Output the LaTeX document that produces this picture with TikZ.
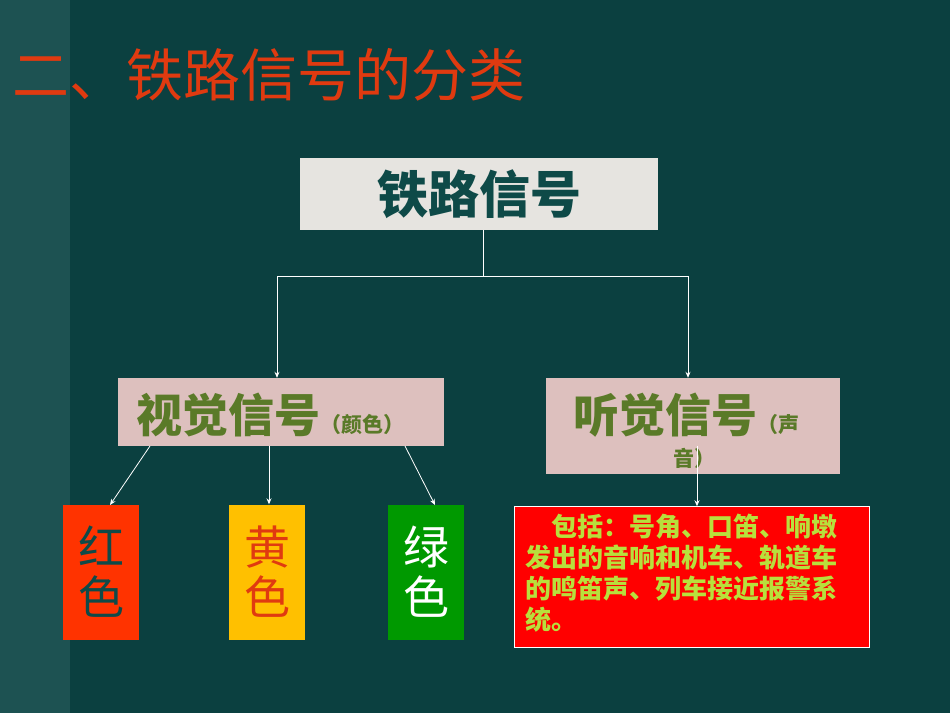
\documentclass[tikz,border=0pt]{standalone}
\usepackage{fontspec}
\usetikzlibrary{arrows.meta}
\newfontfamily\cjk{Noto Sans CJK SC}
\newcommand\cjkb{\cjk\bfseries}
\begin{document}
\begin{tikzpicture}[x=1pt,y=-1pt,
  box/.style={inner sep=0pt,draw=none},
  conn/.style={white,line width=0.8pt},
  arr/.style={conn,-{Stealth[length=6pt,width=5pt]}}]
\definecolor{bg}{HTML}{0B4040}
\definecolor{strip}{HTML}{1D5252}
\definecolor{ttl}{HTML}{E03A10}
\definecolor{dteal}{HTML}{0E4A48}
\definecolor{olive}{HTML}{5A7A28}
\definecolor{pinkb}{HTML}{DDC0BE}
\definecolor{greyb}{HTML}{E6E4E0}
\definecolor{ygreen}{HTML}{B8E03C}
\useasboundingbox (0,0) rectangle (950,713);
\fill[bg] (0,0) rectangle (950,713);
\fill[strip] (0,0) rectangle (70,713);
\node[anchor=west,text=ttl,font=\cjk\fontsize{57}{57}\selectfont,inner sep=0pt] (title) at (12,75) {二、铁路信号的分类};
% top
\node[box,fill=greyb,minimum width=358pt,minimum height=72pt,text=dteal,font=\cjkb\fontsize{51}{51}\selectfont] (top) at (479,194) {铁路信号};
\node[box,fill=pinkb,minimum width=326pt,minimum height=68pt] (vis) at (281,412) {};
\node[text=olive,font=\cjkb\fontsize{46}{46}\selectfont,inner sep=0pt,anchor=base west] (vist) at (136,432) {视觉信号\fontsize{21}{21}\selectfont（颜色）};
\node[box,fill=pinkb,minimum width=294pt,minimum height=96pt] (aud) at (693,426) {};
\node[text=olive,font=\cjkb\fontsize{46}{46}\selectfont,inner sep=0pt,anchor=base west] (audt) at (573,432) {听觉信号\fontsize{21}{21}\selectfont（声};
\node[text=olive,font=\cjkb\fontsize{21}{21}\selectfont,inner sep=0pt,anchor=base west] (audt2) at (673,466) {音）};
% color boxes
\node[box,fill={rgb,255:red,255;green,51;blue,0},minimum width=76pt,minimum height=135pt,text=dteal,font=\cjk\fontsize{46}{50}\selectfont,align=center] (red) at (101,572) {红\\色};
\node[box,fill={rgb,255:red,255;green,192;blue,0},minimum width=76pt,minimum height=135pt,text=ttl,font=\cjk\fontsize{46}{50}\selectfont,align=center] (yel) at (267,572) {黄\\色};
\node[box,fill={rgb,255:red,0;green,153;blue,0},minimum width=76pt,minimum height=135pt,text=white,font=\cjk\fontsize{46}{50}\selectfont,align=center] (grn) at (426,572) {绿\\色};
\node[draw=white,line width=0.5pt,fill=red,minimum width=355pt,minimum height=141pt,inner sep=0pt] (desc) at (692,577) {};
\node[text=ygreen,font=\cjkb\fontsize{26}{31}\selectfont,align=left,anchor=north west,inner sep=0pt] (desct) at (525,514) {\hspace{1em}包括：号角、口笛、响墩\\发出的音响和机车、轨道车\\的鸣笛声、列车接近报警系\\统。};
% connectors
\coordinate (j) at (483,276);
\coordinate (jl) at (277,276);
\coordinate (jr) at (688,276);
\coordinate (s1) at (150,446);
\coordinate (s2) at (269,446);
\coordinate (s3) at (405,446);
\coordinate (s4) at (697,446);
\draw[conn] (top.south -| j) -- (j);
\draw[conn] (jl) -- (jr);
\draw[arr] (jl) -- (jl |- vis.north);
\draw[arr] (jr) -- (jr |- aud.north);
\draw[arr] (s1) -- (110,505);
\draw[arr] (s2) -- (s2 |- yel.north);
\draw[arr] (s3) -- (435,505);
\draw[arr] (s4) -- (s4 |- desc.north);
\end{tikzpicture}
\end{document}
